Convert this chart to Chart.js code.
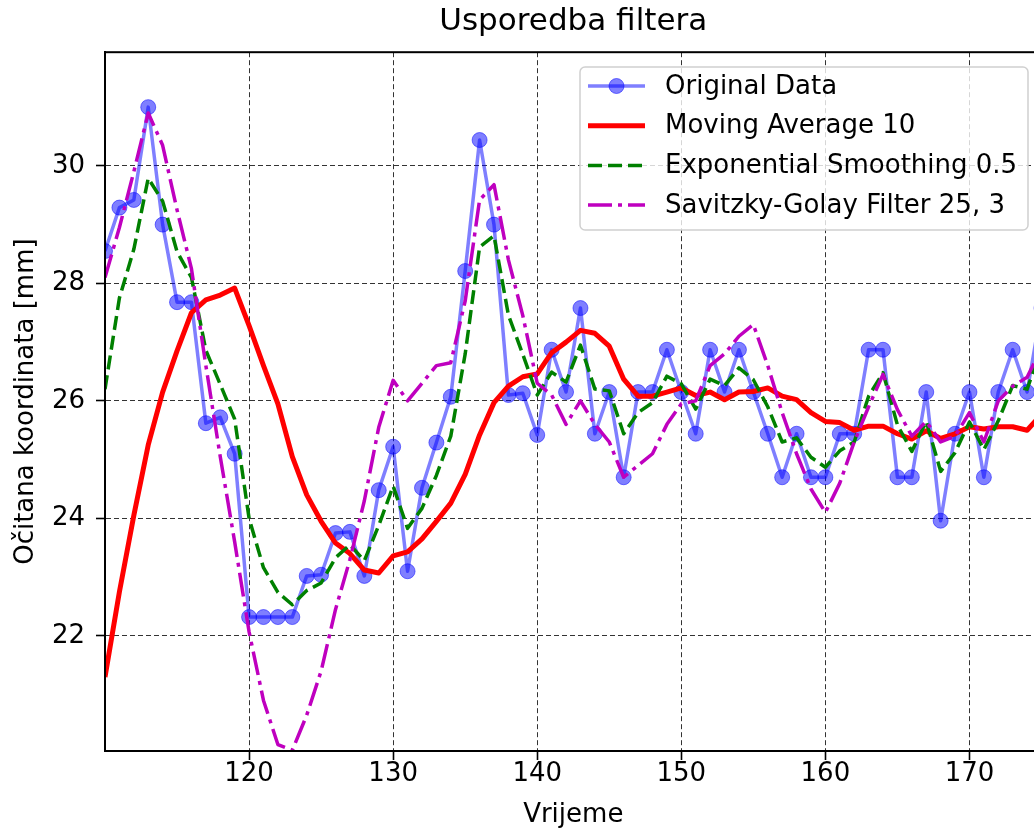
<!DOCTYPE html>
<html>
<head>
<meta charset="utf-8">
<title>Usporedba filtera</title>
<script src="https://cdn.jsdelivr.net/npm/chart.js@4.4.1/dist/chart.umd.min.js"></script>
<style>
  html, body { margin: 0; padding: 0; background: #fff; overflow: hidden; }
  #wrap { width: 1050px; height: 834px; }
</style>
</head>
<body>
<div id="wrap"><canvas id="chart" width="1050" height="834"></canvas></div>
<script>
const FONT = '"DejaVu Sans", sans-serif';

const TITLE = "Usporedba filtera";
const X_LABEL = "Vrijeme";
const Y_LABEL = "Očitana koordinata [mm]";
const SERIES_LABELS = [
  "Original Data",
  "Moving Average 10",
  "Exponential Smoothing 0.5",
  "Savitzky-Golay Filter 25, 3",
];

const X_TICKS = [120, 130, 140, 150, 160, 170];
const Y_TICKS = [22, 24, 26, 28, 30];

const TIME = [
  110, 111, 112, 113, 114, 115, 116, 117, 118, 119,
  120, 121, 122, 123, 124, 125, 126, 127, 128, 129,
  130, 131, 132, 133, 134, 135, 136, 137, 138, 139,
  140, 141, 142, 143, 144, 145, 146, 147, 148, 149,
  150, 151, 152, 153, 154, 155, 156, 157, 158, 159,
  160, 161, 162, 163, 164, 165, 166, 167, 168, 169,
  170, 171, 172, 173, 174, 175,
];

const ORIGINAL = [
  28.55, 29.29, 29.42, 31.0, 29.0, 27.68, 27.68, 25.62, 25.72, 25.1,
  22.32, 22.32, 22.32, 22.32, 23.02, 23.04, 23.75, 23.77, 23.02, 24.48,
  25.22, 23.1, 24.52, 25.29, 26.07, 28.21, 30.44, 29.0, 26.1, 26.13,
  25.42, 26.87, 26.15, 27.58, 25.44, 26.15, 24.7, 26.15, 26.15, 26.87,
  26.15, 25.44, 26.87, 26.15, 26.87, 26.15, 25.44, 24.7, 25.44, 24.7,
  24.7, 25.44, 25.44, 26.87, 26.87, 24.7, 24.7, 26.15, 23.96, 25.44,
  26.15, 24.7, 26.15, 26.87, 26.15, 27.58,
];

const MOVING_AVG = [
  21.3, 22.75, 24.05, 25.25, 26.15, 26.85, 27.5, 27.72, 27.8, 27.92,
  27.28, 26.6, 25.95, 25.05, 24.4, 23.95, 23.58, 23.4, 23.12, 23.07,
  23.36, 23.43, 23.65, 23.95, 24.26, 24.75, 25.42, 25.97, 26.25, 26.41,
  26.46, 26.82, 27.0, 27.2, 27.15, 26.93, 26.37, 26.08, 26.08, 26.15,
  26.22, 26.09, 26.15, 26.02, 26.15, 26.16, 26.22, 26.08, 26.02, 25.8,
  25.65, 25.63, 25.5, 25.57, 25.57, 25.44, 25.35, 25.49, 25.36, 25.44,
  25.56, 25.52, 25.56, 25.56, 25.5, 25.77,
];

const EXP_SMOOTH = [
  26.2, 27.75, 28.58, 29.79, 29.4, 28.54, 28.1, 26.86, 26.28, 25.69,
  24.0, 23.16, 22.74, 22.53, 22.77, 22.9, 23.33, 23.55, 23.28, 23.88,
  24.55, 23.83, 24.17, 24.73, 25.4, 26.8, 28.62, 28.81, 27.46, 26.79,
  26.1, 26.49, 26.32, 26.95, 26.2, 26.17, 25.44, 25.8, 25.97, 26.42,
  26.29, 25.86, 26.37, 26.26, 26.56, 26.36, 25.9, 25.3, 25.37, 25.04,
  24.87, 25.15, 25.3, 26.08, 26.48, 25.59, 25.14, 25.65, 24.8, 25.12,
  25.64, 25.17, 25.66, 26.26, 26.2, 26.9,
];

const SAVGOL = [
  28.1, 28.95, 29.9, 30.9, 30.35, 29.25, 28.25, 26.6, 25.05, 23.6,
  22.07, 20.9, 20.15, 20.05, 20.65, 21.4, 22.45, 23.3, 24.3, 25.55,
  26.35, 26.0, 26.3, 26.6, 26.65, 27.7, 29.42, 29.68, 28.4, 27.45,
  26.3, 26.1, 25.6, 26.0, 25.6, 25.3, 24.7, 24.9, 25.1, 25.6,
  25.95, 26.0, 26.6, 26.8, 27.1, 27.3, 26.6, 25.8, 25.1, 24.5,
  24.1, 24.6, 25.3, 25.9, 26.45, 25.85, 25.4, 25.65, 25.3, 25.4,
  25.8, 25.3, 26.0, 26.25, 26.4, 26.9,
];

const pts = (arr) => TIME.map((x, i) => ({ x, y: arr[i] }));

// axes frame on all four sides, like matplotlib spines
const framePlugin = {
  id: "frame",
  afterDatasetsDraw(chart) {
    const { ctx, chartArea: a } = chart;
    ctx.save();
    ctx.strokeStyle = "#000";
    ctx.lineWidth = 2;
    ctx.strokeRect(a.left, a.top, a.right - a.left, a.bottom - a.top);
    ctx.restore();
  },
};

// legend box inside the plot, upper right
const insideLegend = {
  id: "insideLegend",
  afterDraw(chart) {
    const { ctx } = chart;
    const box = { x: 580, y: 67, w: 448, h: 163 };
    ctx.save();
    ctx.beginPath();
    ctx.roundRect(box.x, box.y, box.w, box.h, 5);
    ctx.fillStyle = "rgba(255,255,255,0.8)";
    ctx.fill();
    ctx.strokeStyle = "#d0d0d0";
    ctx.lineWidth = 1.5;
    ctx.stroke();

    ctx.font = "26px " + FONT;
    ctx.textBaseline = "middle";
    ctx.textAlign = "left";
    chart.data.datasets.forEach((ds, i) => {
      const y = 86 + i * 39.7;
      ctx.save();
      ctx.strokeStyle = ds.borderColor;
      ctx.lineWidth = ds.borderWidth;
      ctx.setLineDash(ds.borderDash || []);
      ctx.beginPath();
      ctx.moveTo(588, y);
      ctx.lineTo(645, y);
      ctx.stroke();
      ctx.setLineDash([]);
      if (ds.pointRadius) {
        ctx.beginPath();
        ctx.arc(616.5, y, ds.pointRadius, 0, Math.PI * 2);
        ctx.fillStyle = ds.pointBackgroundColor;
        ctx.fill();
        ctx.lineWidth = ds.pointBorderWidth;
        ctx.strokeStyle = ds.pointBorderColor;
        ctx.stroke();
      }
      ctx.restore();
      ctx.fillStyle = "#000";
      ctx.fillText(ds.label, 665, y + 1);
    });
    ctx.restore();
  },
};

const gridOpts = {
  color: "rgba(0,0,0,0.8)",
  lineWidth: 1,
  tickLength: 9,
  tickColor: "#000",
  tickWidth: 1.6,
  tickBorderDash: [],
};

new Chart(document.getElementById("chart"), {
  type: "line",
  data: {
    datasets: [
      {
        label: SERIES_LABELS[0],
        data: pts(ORIGINAL),
        borderColor: "rgba(0,0,255,0.5)",
        borderWidth: 3.5,
        pointRadius: 7.5,
        pointBackgroundColor: "rgba(0,0,255,0.5)",
        pointBorderColor: "rgba(0,0,255,0.5)",
        pointBorderWidth: 1,
        borderJoinStyle: "round",
        order: 4,
        clip: 0,
      },
      {
        label: SERIES_LABELS[1],
        data: pts(MOVING_AVG),
        borderColor: "#ff0000",
        borderWidth: 5,
        pointRadius: 0,
        borderJoinStyle: "round",
        order: 3,
        clip: 0,
      },
      {
        label: SERIES_LABELS[2],
        data: pts(EXP_SMOOTH),
        borderColor: "#008000",
        borderWidth: 3.5,
        borderDash: [14, 6],
        pointRadius: 0,
        borderJoinStyle: "round",
        order: 2,
        clip: 0,
      },
      {
        label: SERIES_LABELS[3],
        data: pts(SAVGOL),
        borderColor: "#bf00bf",
        borderWidth: 3.5,
        borderDash: [24, 6, 4, 6],
        pointRadius: 0,
        borderJoinStyle: "round",
        order: 1,
        clip: 0,
      },
    ],
  },
  options: {
    responsive: false,
    animation: false,
    events: [],
    layout: { padding: { left: 0, right: 8, top: 0, bottom: 0 } },
    scales: {
      x: {
        type: "linear",
        min: 110,
        max: 175,
        afterBuildTicks: (s) => { s.ticks = X_TICKS.map((v) => ({ value: v })); },
        afterFit: (s) => { s.height = 83; },
        grid: gridOpts,
        border: { display: true, color: "#000", width: 2, dash: [5, 3] },
        ticks: {
          color: "#000",
          padding: 1,
          maxRotation: 0,
          font: { family: FONT, size: 26, lineHeight: 1.0 },
        },
        title: {
          display: true,
          text: X_LABEL,
          color: "#000",
          padding: { top: 0, bottom: 3 },
          font: { family: FONT, size: 26, lineHeight: 1.2 },
        },
      },
      y: {
        type: "linear",
        min: 20.04,
        max: 31.935,
        afterBuildTicks: (s) => { s.ticks = Y_TICKS.map((v) => ({ value: v })); },
        afterFit: (s) => { s.width = 105; },
        grid: gridOpts,
        border: { display: true, color: "#000", width: 2, dash: [5, 3] },
        ticks: {
          color: "#000",
          padding: 11,
          font: { family: FONT, size: 26, lineHeight: 1.0 },
        },
        title: {
          display: true,
          text: Y_LABEL,
          color: "#000",
          padding: { top: 11, bottom: 0 },
          font: { family: FONT, size: 26, lineHeight: 1.2 },
        },
      },
    },
    plugins: {
      legend: { display: false },
      tooltip: { enabled: false },
      title: {
        display: true,
        text: TITLE,
        fullSize: false,
        color: "#000",
        padding: { top: 3, bottom: 12 },
        font: { family: FONT, size: 31, weight: "normal", lineHeight: 1.2 },
      },
    },
  },
  plugins: [framePlugin, insideLegend],
});
</script>
</body>
</html>
